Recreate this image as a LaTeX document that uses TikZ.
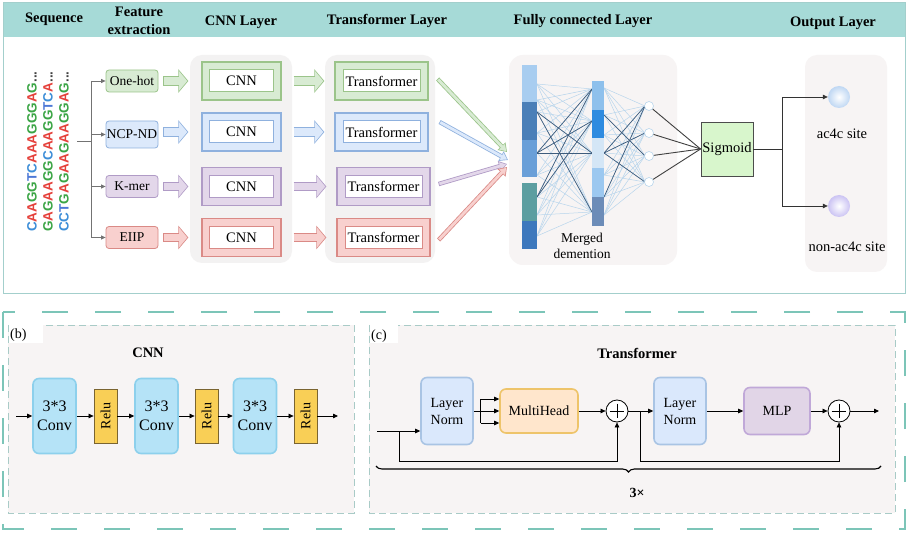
\documentclass[tikz,border=0pt]{standalone}
\usepackage{fontspec}
\setmainfont{Liberation Serif}
\newfontfamily\seqfont{Liberation Sans}
\usetikzlibrary{arrows.meta,calc,decorations.pathreplacing}
\definecolor{hdrc}{HTML}{A6DAD7}
\definecolor{frm}{HTML}{A3CFCC}
\definecolor{pnl}{HTML}{F3F2F2}
\definecolor{pnlb}{HTML}{F7F4F4}
\definecolor{fillg}{HTML}{D8EBD3}
\definecolor{lineg}{HTML}{9BC48A}
\definecolor{fillb}{HTML}{DCE9FB}
\definecolor{lineb}{HTML}{8FB1DE}
\definecolor{fillp}{HTML}{E3D7EA}
\definecolor{linep}{HTML}{B09BC6}
\definecolor{fillr}{HTML}{F8D0CE}
\definecolor{liner}{HTML}{DA8A86}
\definecolor{nA}{HTML}{E5403A}
\definecolor{nC}{HTML}{3D8ED8}
\definecolor{nG}{HTML}{3BA545}
\definecolor{nT}{HTML}{4C78D6}
\definecolor{bara}{HTML}{A8CDF0}
\definecolor{barb}{HTML}{4A7FB8}
\definecolor{barc}{HTML}{6A9FD8}
\definecolor{bard}{HTML}{5C9EA0}
\definecolor{bare}{HTML}{3D78BD}
\definecolor{barf}{HTML}{8EC0EC}
\definecolor{barg}{HTML}{2E8BE0}
\definecolor{barh}{HTML}{D4E6F6}
\definecolor{bari}{HTML}{9CC8F0}
\definecolor{barj}{HTML}{6C8CB8}
\definecolor{meshl}{HTML}{B8D5EC}
\definecolor{meshd}{HTML}{3E5C7C}
\definecolor{sigf}{HTML}{D8F6CC}
\definecolor{outa}{HTML}{BFD7F3}
\definecolor{outb}{HTML}{CBC3F3}
\definecolor{tealc}{HTML}{7CC5B8}
\definecolor{dsh}{HTML}{A9CBC7}
\definecolor{convf}{HTML}{B5E3F7}
\definecolor{convd}{HTML}{8DD0EC}
\definecolor{reluf}{HTML}{F9CF56}
\definecolor{relud}{HTML}{7A6430}
\definecolor{lnf}{HTML}{DAE8FC}
\definecolor{lnd}{HTML}{A9C4E4}
\definecolor{mhf}{HTML}{FFE6CC}
\definecolor{mhd}{HTML}{EEC46A}
\definecolor{mlpf}{HTML}{E1D5E7}
\definecolor{mlpd}{HTML}{C0A8D8}
\newcommand\nucA{\textcolor{nA}{A}}
\newcommand\nucC{\textcolor{nC}{C}}
\newcommand\nucG{\textcolor{nG}{G}}
\newcommand\nucT{\textcolor{nT}{T}}
\newcommand\nucdots{\textcolor{black!75}{...}}
\newcommand\blockarrow[4]{\draw[bigA=#3] #1 -- #2; \draw[bigB=#4] #1 -- #2;}
\newcommand\slimarrow[4]{\draw[smA=#3] #1 -- #2; \draw[smB=#4] #1 -- #2;}
\begin{document}
\begin{tikzpicture}[x=1pt,y=-1pt,
  font=\fontsize{14}{17}\selectfont,
  hdrtext/.style={font=\bfseries\fontsize{14.5}{17}\selectfont, align=center, inner sep=0pt},
  feat/.style={rounded corners=3pt, line width=0.8pt, minimum width=52pt, inner sep=0pt, font=\fontsize{13.5}{16}\selectfont},
  outbox/.style={line width=1.3pt, inner sep=0pt, minimum height=38pt},
  inbox/.style={line width=1pt, fill=white, inner sep=0pt, minimum height=22pt, font=\fontsize{14.5}{17}\selectfont},
  bigA/.style={line width=9.5pt, draw=#1, -{Triangle[length=10pt,width=23pt]}},
  bigB/.style={line width=7.9pt, draw=#1, -{Triangle[length=8.1pt,width=19pt]}, shorten >=1.1pt, shorten <=0.8pt},
  smA/.style={line width=4.4pt, draw=#1, -{Triangle[length=8pt,width=10.5pt]}},
  smB/.style={line width=2.8pt, draw=#1, -{Triangle[length=6.2pt,width=7.6pt]}, shorten >=1.1pt, shorten <=0.8pt},
  gray arrow/.style={draw=black!55, line width=0.8pt, -{Triangle[length=4.5pt,width=4pt]}},
  arr/.style={draw=black, line width=0.75pt, -{Triangle[length=5pt,width=4.5pt]}},
  ln/.style={draw=black, line width=0.75pt},
  meshL/.style={draw=meshl, line width=0.5pt},
  meshD/.style={draw=meshd, line width=0.7pt},
  conv/.style={draw=convd, fill=convf, line width=1.6pt, rounded corners=6pt, minimum width=43pt, minimum height=75pt, inner sep=0pt, align=center, font=\fontsize{16}{19}\selectfont},
  relu/.style={draw=relud, fill=reluf, line width=0.8pt, minimum width=23pt, minimum height=54pt, inner sep=0pt},
  blk/.style={line width=1.6pt, rounded corners=6pt, inner sep=0pt, align=center},
  plus/.style={circle, draw=black, fill=white, line width=0.8pt, minimum size=22pt, inner sep=0pt},
  lbl/.style={font=\fontsize{14}{17}\selectfont, inner sep=1pt}
]
\useasboundingbox (0,0) rectangle (907,534);
% ---------- top frame ----------
\fill[white] (0,0) rectangle (907,534);
\fill[hdrc] (3,3) rectangle (905,37);
\draw[frm, line width=1pt] (3,3) rectangle (905,294);
\node[hdrtext] (h1) at (54,19) {Sequence};
\node[hdrtext, font=\bfseries\fontsize{14.5}{18}\selectfont] (h2) at (139,21) {Feature\\extraction};
\node[hdrtext] (h3) at (241,22) {CNN Layer};
\node[hdrtext] (h4) at (387,21) {Transformer Layer};
\node[hdrtext] (h5) at (583,21) {Fully connected Layer};
\node[hdrtext] (h6) at (833,23) {Output Layer};
% panels
\fill[pnl, rounded corners=12pt] (190,55) rectangle (292,263);
\fill[pnl, rounded corners=12pt] (325,55) rectangle (435,263);
\fill[pnlb, rounded corners=14pt] (509,55) rectangle (677,265);
\fill[pnlb, rounded corners=12pt] (805,55) rectangle (887,272);
% sequences
\begin{scope}[every node/.style={rotate=90, anchor=west, inner sep=0pt, font=\seqfont\bfseries\fontsize{13.5}{14}\selectfont}]
\node (s1) at (32,232) {\nucC\nucA\nucA\nucG\nucG\nucT\nucC\nucA\nucA\nucA\nucG\nucG\nucG\nucA\nucG\nucdots};
\node (s2) at (48,232) {\nucG\nucA\nucG\nucA\nucA\nucG\nucG\nucC\nucA\nucA\nucG\nucG\nucT\nucC\nucA\nucdots};
\node (s3) at (64,232) {\nucC\nucC\nucT\nucG\nucA\nucG\nucA\nucA\nucG\nucA\nucA\nucG\nucG\nucA\nucG\nucdots};
\end{scope}
% feature boxes
\foreach \i/\y/\h/\t/\c in {1/81/22/One-hot/g, 2/134.5/27/NCP-ND/b, 3/186.5/22/K-mer/p, 4/237.5/22/EIIP/r}{
  \node[feat, draw=line\c, fill=fill\c, minimum height=\h pt] (f\i) at (132,\y) {\t};
}
\coordinate (sq) at (77,141);
\coordinate (jn) at (91,141);
\draw[draw=black!55, line width=0.8pt] (sq) -- (jn);
\draw[draw=black!55, line width=0.8pt] (jn |- f1) -- (jn |- f4);
\foreach \i in {1,...,4}{ \draw[gray arrow] (jn |- f\i) -- (f\i.west); }
% CNN and Transformer boxes
\foreach \i/\y/\tx/\c in {1/81/381.5/g, 2/132/381.5/b, 3/186.5/383.5/p, 4/237.5/383.5/r}{
  \node[outbox, draw=line\c, fill=fill\c, minimum width=79pt] (c\i) at (241.5,\y) {};
  \node[inbox, draw=line\c, minimum width=64pt] (ci\i) at (241.5,\y) {CNN};
  \node[outbox, draw=line\c, fill=fill\c, minimum width=93pt] (t\i) at (\tx,\y) {};
  \node[inbox, draw=line\c, minimum width=77pt] (ti\i) at (\tx,\y) {Transformer};
}
% block arrows
\foreach \i/\c in {1/g,2/b,3/p,4/r}{
  \blockarrow{($(f\i.east |- c\i)+(5,0)$)}{($(c\i.west)+(-13,0)$)}{line\c}{fill\c}
  \blockarrow{($(c\i.east)+(12,0)$)}{($(t\i.west)+(-10,0)$)}{line\c}{fill\c}
}
% converging arrows
\coordinate (m1) at (507,152);
\coordinate (m2) at (508,160);
\coordinate (m3) at (507,164);
\coordinate (m4) at (507,167);
\slimarrow{($(t1.east)+(9,-2)$)}{(m1)}{lineg}{fillg}
\slimarrow{($(t2.east)+(11,-10)$)}{(m2)}{lineb}{fillb}
\slimarrow{($(t3.east)+(8,-2.5)$)}{(m3)}{linep}{fillp}
\slimarrow{($(t4.east)+(8,2.5)$)}{(m4)}{liner}{fillr}
% fully connected mesh
\foreach \a in {84,100,112,133,153,175,197,215,236}
  \foreach \b in {89,121,153,212}
    \draw[meshL] (537,\a) -- (592,\b);
\foreach \a/\b in {112/153,112/212,153/89,153/121,153/153,197/89,197/121}
  \draw[meshD] (537,\a) -- (592,\b);
\foreach \a in {88,115,135,153,175,197,215}
  \foreach \b in {106,133,156,182}
    \draw[meshL] (604,\a) -- (645,\b);
\foreach \a/\b in {115/156,153/106,153/133,153/182,197/106}
  \draw[meshD] (604,\a) -- (645,\b);
% bars
\fill[bara] (522,65) rectangle (537,102);
\fill[barb] (522,102) rectangle (537,140);
\fill[barc] (522,140) rectangle (537,177);
\fill[bard] (522,183) rectangle (537,221);
\fill[bare] (522,221) rectangle (537,249);
\fill[barf] (592,81) rectangle (604,110);
\fill[barg] (592,110) rectangle (604,138);
\fill[barh] (592,138) rectangle (604,168);
\fill[bari] (592,168) rectangle (604,197);
\fill[barj] (592,197) rectangle (604,226);
\node[font=\fontsize{13.5}{16}\selectfont, align=center, inner sep=0pt] (mgd) at (582,246) {Merged\\demention};
% neurons
\foreach \i/\y in {1/106,2/133,3/156,4/182}{
  \node[circle, draw=meshl, fill=white, minimum size=9pt, inner sep=0pt, line width=0.6pt] (n\i) at (649,\y) {};
}
\node[draw=black!70, fill=sigf, line width=0.9pt, minimum width=52pt, minimum height=54pt, inner sep=0pt, font=\fontsize{14.5}{17}\selectfont] (sig) at (727,149) {Sigmoid};
\foreach \i in {1,...,4}{ \draw[draw=black!75, line width=0.9pt] (n\i) -- (sig.west); }
% output layer
\node[circle, minimum size=22pt, inner sep=0pt, inner color=white, outer color=outa] (o1) at (839,97) {};
\node[circle, minimum size=22pt, inner sep=0pt, inner color=white, outer color=outb] (o2) at (839,206) {};
\coordinate (br) at (782,149);
\draw[draw=black!80, line width=0.8pt] (sig.east) -- (br);
\draw[arr, draw=black!80] (br) |- (o1);
\draw[arr, draw=black!80] (br) |- (o2);
\node[font=\fontsize{14.5}{17}\selectfont, inner sep=0pt] (t_ac) at (842,134) {ac4c site};
\node[font=\fontsize{14.5}{17}\selectfont, inner sep=0pt] (t_non) at (847,247) {non-ac4c site};
% ---------- bottom part ----------
\draw[tealc, line width=2.5pt, dash pattern=on 26pt off 27pt] (3,312) rectangle (905,529);
\draw[dsh, fill=pnlb, line width=0.9pt, dash pattern=on 7pt off 4pt] (8,325) rectangle (354,513);
\draw[dsh, fill=pnlb, line width=0.9pt, dash pattern=on 7pt off 4pt] (369,325) rectangle (895,513);
\fill[white] (8.5,325.5) rectangle (43,343);
\fill[white] (369.5,325.5) rectangle (398,343);
\node[lbl, anchor=west] (lb) at (9,335) {(b)};
\node[lbl, anchor=west] (lc) at (370,336) {(c)};
% (b) CNN
\node[font=\bfseries\fontsize{14.5}{17}\selectfont] (cnnT) at (148,353) {CNN};
\node[conv] (cv1) at (54.5,416) {3*3\\Conv};
\node[relu] (r1) at (105.5,416) {\rotatebox{90}{Relu}};
\node[conv] (cv2) at (156.5,416) {3*3\\Conv};
\node[relu] (r2) at (206.5,416) {\rotatebox{90}{Relu}};
\node[conv] (cv3) at (255,416) {3*3\\Conv};
\node[relu] (r3) at (305.5,416) {\rotatebox{90}{Relu}};
\coordinate (bin) at (16,416);
\coordinate (bout) at (338,416);
\draw[arr] (bin) -- (cv1);
\draw[arr] (cv1) -- (r1);
\draw[arr] (r1) -- (cv2);
\draw[arr] (cv2) -- (r2);
\draw[arr] (r2) -- (cv3);
\draw[arr] (cv3) -- (r3);
\draw[arr] (r3) -- (bout);
% (c) Transformer
\node[font=\bfseries\fontsize{14.5}{17}\selectfont] (trT) at (637,353) {Transformer};
\node[blk, draw=lnd, fill=lnf, minimum width=52pt, minimum height=67pt] (ln1) at (447,411) {Layer\\Norm};
\node[blk, draw=mhd, fill=mhf, minimum width=78pt, minimum height=44pt] (mh) at (539,411) {MultiHead};
\node[plus] (p1) at (617,411) {};
\node[blk, draw=lnd, fill=lnf, minimum width=52pt, minimum height=67pt] (ln2) at (680,411) {Layer\\Norm};
\node[blk, draw=mlpd, fill=mlpf, minimum width=66pt, minimum height=47pt] (mlp) at (777,411) {MLP};
\node[plus] (p2) at (839,411) {};
\foreach \p in {p1,p2}{
  \draw[ln] ($(\p.north)+(0,4)$) -- ($(\p.south)+(0,-4)$);
  \draw[ln] ($(\p.west)+(4,0)$) -- ($(\p.east)+(-4,0)$);
}
\coordinate (cin) at (377,431);
\coordinate (j1) at (399,431);
\draw[arr] (cin) -- (cin -| ln1.west);
\draw[arr] (j1) -- ++(0,30) -| (p1.south);
\coordinate (sp) at (480.5,411);
\draw[ln] (ln1.east) -- (sp);
\draw[ln] (480.5,399) -- (480.5,423);
\foreach \yy in {399,411,423}{
  \coordinate (tt\yy) at (480.5,\yy);
  \draw[arr] (tt\yy) -- (tt\yy -| mh.west);
}
\draw[arr] (mh) -- (p1);
\draw[arr] (p1) -- (ln2);
\coordinate (j2) at (640.6,411);
\draw[arr] (j2) -- ++(0,50) -| (p2.south);
\draw[arr] (ln2) -- (mlp);
\draw[arr] (mlp) -- (p2);
\coordinate (cout) at (879,411);
\draw[arr] (p2) -- (cout);
\draw[decorate, decoration={brace, mirror, amplitude=6pt}, line width=1.1pt] (376,466) -- (881,466);
\node[font=\bfseries\fontsize{14}{17}\selectfont] (rep) at (637,493) {3×};
\end{tikzpicture}
\end{document}
